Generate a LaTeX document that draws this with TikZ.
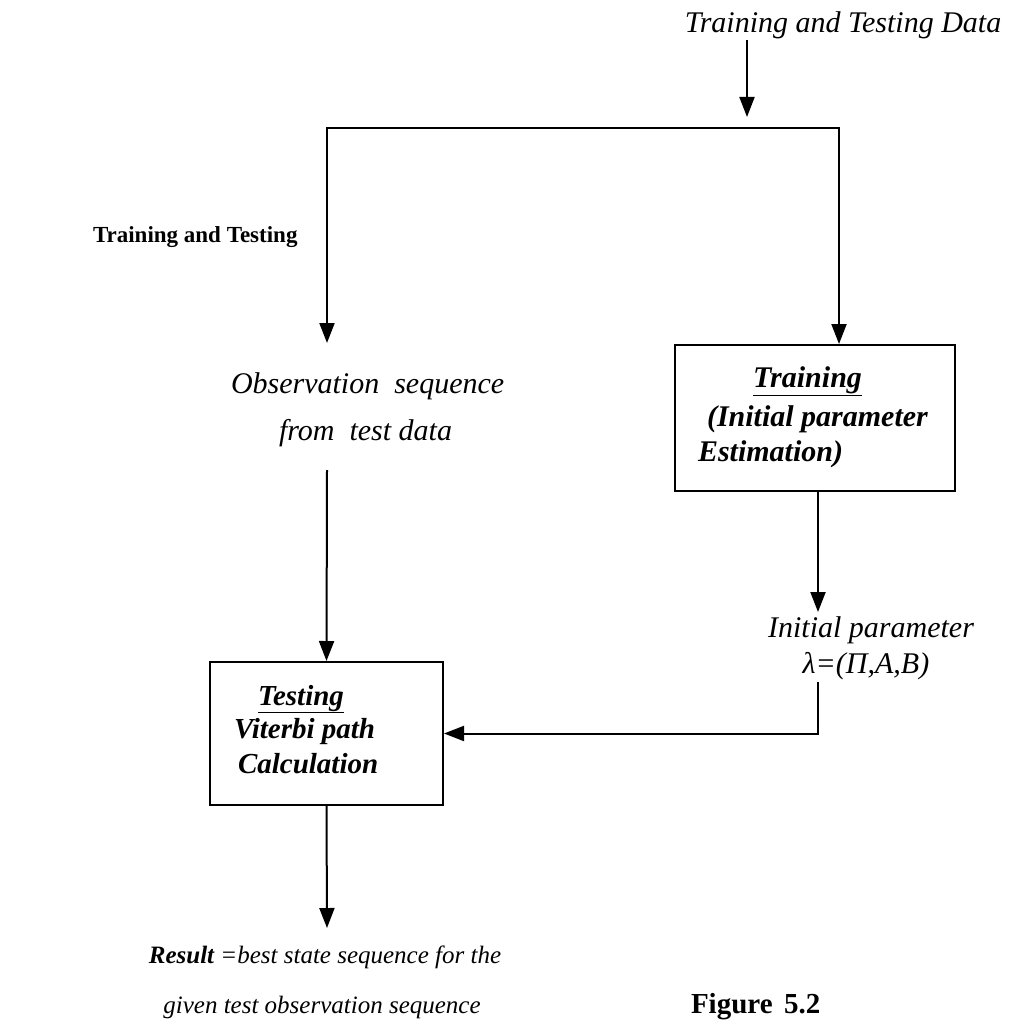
\documentclass[tikz,border=0pt]{standalone}
\usepackage{fontspec}
\setmainfont{Liberation Serif}
\usetikzlibrary{arrows.meta}

\begin{document}
\begin{tikzpicture}[x=1pt,y=-1pt,
  line width=2pt,
  tip/.tip={Triangle[width=15pt,length=20pt]},
  flow/.style={-tip},
  itlbl/.style={inner sep=0pt,font=\fontsize{30}{36}\selectfont\itshape},
  boxlbl/.style={inner sep=0pt,anchor=base west,font=\fontsize{30}{36}\selectfont\bfseries\itshape},
  testlbl/.style={boxlbl,font=\fontsize{29}{34}\selectfont\bfseries\itshape},
  smlbl/.style={inner sep=0pt,anchor=base,font=\fontsize{25}{30}\selectfont\itshape},
  procbox/.style={draw,inner sep=0pt}]

\useasboundingbox (0,0) rectangle (1016,1024);

% input data and section heading
\node[itlbl,anchor=base] (data) at (843,33) {Training and Testing Data};
\node[inner sep=0pt,anchor=base west,font=\fontsize{23}{27}\selectfont\bfseries]
  (heading) at (92,243) {Training and Testing};

% process boxes
\node[procbox,minimum width=280pt,minimum height=146pt] (train) at (815,418) {};
\node[procbox,minimum width=233pt,minimum height=143pt] (test) at (326.5,733.5) {};

\node[boxlbl] (tr1) at (752,387) {\underline{Training}};
\node[boxlbl] (tr2) at (706,426) {(Initial parameter};
\node[boxlbl] (tr3) at (697,461) {Estimation)};

\node[testlbl] (ts1) at (257,705) {\underline{Testing}};
\node[testlbl] (ts2) at (233,738) {Viterbi path};
\node[testlbl] (ts3) at (237,773) {Calculation};

% intermediate labels
\node[itlbl,anchor=base west] (obs1) at (230,393) {Observation~ sequence};
\node[itlbl,anchor=base west] (obs2) at (278,440) {from~ test data};
\node[itlbl,anchor=base] (par1) at (871,637) {Initial parameter};
\node[itlbl,anchor=base] (par2) at (866,673) {λ=(Π,A,B)};

% result and caption
\node[smlbl] (res1) at (325,963) {\textbf{Result} =best state sequence for the};
\node[smlbl] (res2) at (322,1013) {given test observation sequence};
\node[inner sep=0pt,anchor=base west,font=\fontsize{29}{34}\selectfont\bfseries]
  (cap) at (690,1013) {Figure\hspace{0.4em}5.2};

% connector end points
\coordinate (split) at (747,117);
\coordinate (lsplit) at (327,128);
\coordinate (rsplit) at (839,128);
\coordinate (obsin) at (327,343);
\coordinate (obsout) at (327,470);
\coordinate (parin) at (818,612);
\coordinate (parout) at (818,682);
\coordinate (resin) at (327,928);

% connectors
\draw[flow] (data.south -| split) -- (split);
\draw[tip-tip] (obsin) -- (lsplit) -- (rsplit) -- (rsplit |- train.north);
\draw[flow] (train.south -| parin) -- (parin);
\draw[flow] (obsout) -- (test.north);
\draw[flow] (parout) -- (parout |- test.east) -- (test.east);
\draw[flow] (test.south) -- (resin);

\end{tikzpicture}
\end{document}
